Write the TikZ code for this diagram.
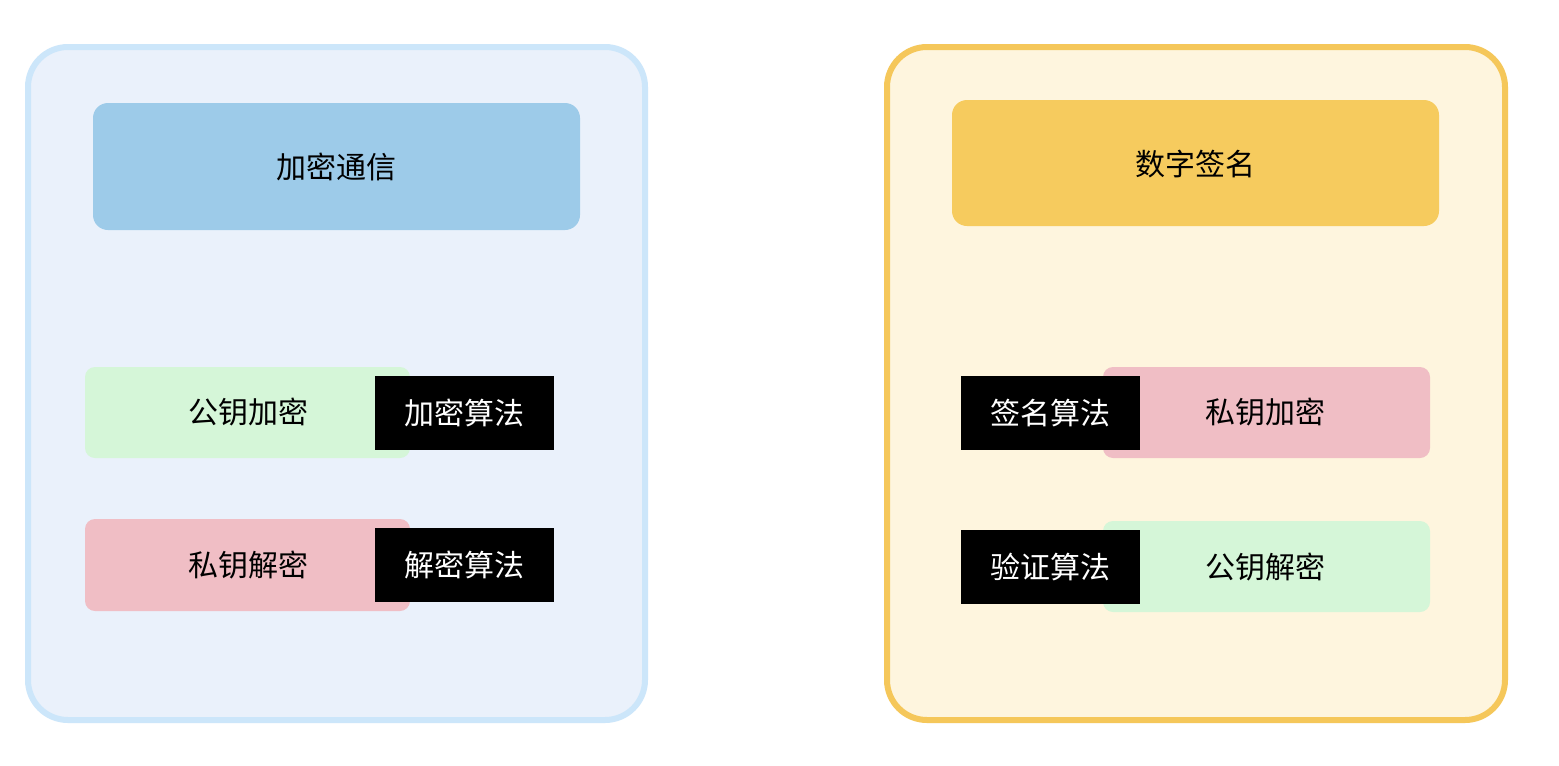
\documentclass[tikz,border=0pt]{standalone}
\usepackage{fontspec}
\setmainfont{Noto Sans CJK SC}
\begin{document}
\begin{tikzpicture}[x=1pt,y=-1pt,
  outer/.style={line width=6pt,rounded corners=40pt},
  title/.style={rounded corners=15pt},
  tag/.style={rounded corners=10pt},
  lbl/.style={font=\fontsize{30}{36}\selectfont},
  blk/.style={fill=black,text=white,font=\fontsize{30}{36}\selectfont,minimum width=179pt,minimum height=74pt,inner sep=0pt}]
\definecolor{lbbg}{HTML}{EAF1FB}\definecolor{lbbd}{HTML}{CCE6FA}
\definecolor{lbt}{HTML}{9DCBE9}\definecolor{gr}{HTML}{D5F6D8}\definecolor{pk}{HTML}{F0BEC5}
\definecolor{ybg}{HTML}{FEF5DE}\definecolor{ybd}{HTML}{F5C75A}\definecolor{yt}{HTML}{F6CB5E}
\useasboundingbox[fill=white] (0,0) rectangle (1559,766);
% left
\draw[outer,draw=lbbd,fill=lbbg] (28,47) rectangle (645,720);
\fill[title,lbt] (93,103) rectangle (580,230);
\node[lbl] (t1) at (336,167) {加密通信};
\fill[tag,gr] (85,367) rectangle (410,458);
\node[lbl] (a1) at (248,412) {公钥加密};
\node[blk] (b1) at (464.5,413) {加密算法};
\fill[tag,pk] (85,519) rectangle (410,611);
\node[lbl] (a2) at (248,565) {私钥解密};
\node[blk] (b2) at (464.5,565) {解密算法};
% right
\draw[outer,draw=ybd,fill=ybg] (887,47) rectangle (1505,720);
\fill[title,yt] (952,100) rectangle (1439,226);
\node[lbl] (t2) at (1195,164) {数字签名};
\fill[tag,pk] (1103,367) rectangle (1430,458);
\node[lbl] (a3) at (1265,412) {私钥加密};
\node[blk] (b3) at (1050,413) {签名算法};
\fill[tag,gr] (1103,521) rectangle (1430,612);
\node[lbl] (a4) at (1265,567) {公钥解密};
\node[blk] (b4) at (1050,567) {验证算法};
\end{tikzpicture}
\end{document}
